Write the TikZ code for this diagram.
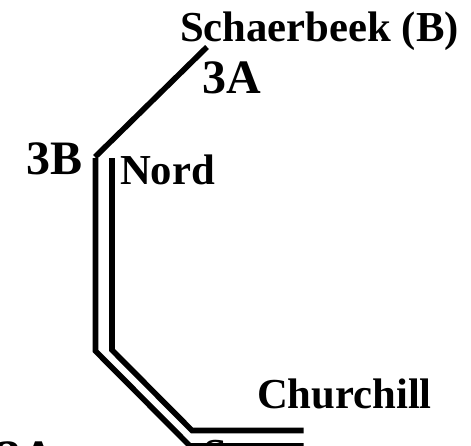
\documentclass[tikz,border=0pt]{standalone}
\usepackage{fontspec}
\setmainfont{Liberation Serif}
\tikzset{
  rail/.style={line width=5.6pt,line cap=butt,line join=miter},
  lab/.style={font=\bfseries\fontsize{#1}{#1}\selectfont,anchor=base west,inner sep=0pt,outer sep=0pt}
}
\begin{document}
\begin{tikzpicture}[x=1pt,y=-1pt]
\useasboundingbox (0,0) rectangle (471,445);
\clip (0,0) rectangle (471,445);
\coordinate (a) at (207,47);
\coordinate (b) at (95,157);
\coordinate (c) at (95.5,158);
\coordinate (d) at (95.5,351);
\coordinate (e) at (190,446);
\coordinate (f) at (303.5,446);
\coordinate (g) at (112,158);
\coordinate (h) at (112,350);
\coordinate (i) at (192,430.5);
\coordinate (j) at (303.5,430.5);
\draw[rail] (a) -- (b);
\draw[rail] (c) -- (d) -- (e) -- (f);
\draw[rail] (g) -- (h) -- (i) -- (j);
\node[lab=42.7] (sch) at (180,41) {Schaerbeek (B)};
\node[lab=48] (t3a) at (202,93) {3A};
\node[lab=48] (t3b) at (27,174) {3B};
\node[lab=42.7] (nord) at (120,184) {Nord};
\node[lab=42.7] (chu) at (257,408) {Churchill};
\node[lab=48] (bot) at (-2,473.5) {3A};
\node[lab=42.7] (s) at (203,468.5) {S};
\end{tikzpicture}
\end{document}
